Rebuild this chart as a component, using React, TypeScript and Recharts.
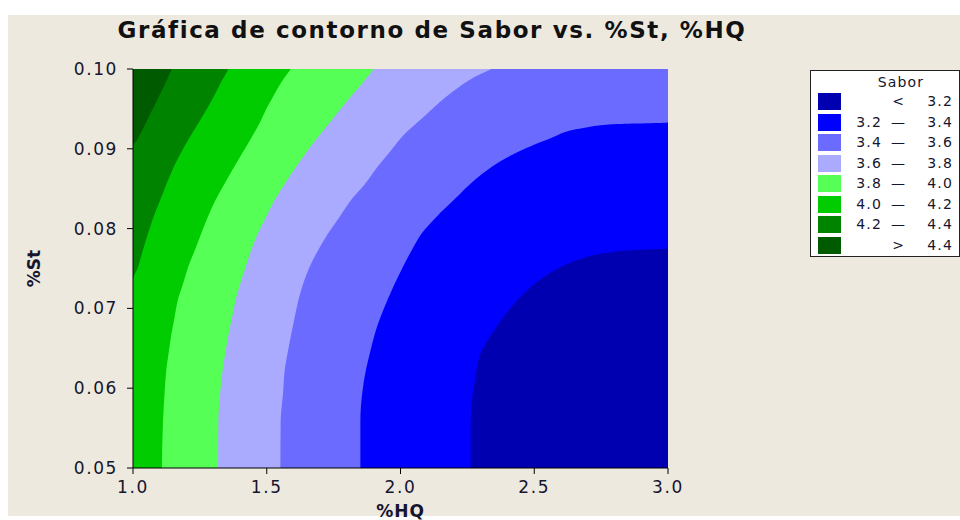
import React from "react";
import { ComposedChart, Area, XAxis, YAxis, Legend } from "recharts";

const hqTicks = [1.0, 1.5, 2.0, 2.5, 3.0];
const stTicks = [0.05, 0.06, 0.07, 0.08, 0.09, 0.1];

// plot frame, filled with the "< 3.2" band
const frameSt = [0.05, 0.1];
const frameHq = [3.0, 3.0];

// contour lines: %HQ where Sabor crosses each level, read along %St
const c32St = [0.05, 0.0552, 0.061, 0.0648, 0.0662, 0.068, 0.07, 0.072, 0.0738, 0.0752, 0.0763, 0.0769, 0.0773, 0.0775, 0.1];
const c32Hq = [2.262, 2.262, 2.278, 2.305, 2.33, 2.365, 2.41, 2.465, 2.53, 2.6, 2.683, 2.76, 2.86, 3.0, 3.0];

const c34St = [0.05, 0.0558, 0.0594, 0.0625, 0.0646, 0.0667, 0.0711, 0.075, 0.0773, 0.0794, 0.0815, 0.0836, 0.0863, 0.0884, 0.0901, 0.0913, 0.0926, 0.0931, 0.0933, 0.1];
const c34Hq = [1.85, 1.85, 1.857, 1.872, 1.887, 1.903, 1.952, 2.006, 2.042, 2.079, 2.135, 2.2, 2.285, 2.372, 2.471, 2.559, 2.683, 2.808, 3.0, 3.0];

const c36St = [0.05, 0.0558, 0.0594, 0.0625, 0.0646, 0.0667, 0.069, 0.0711, 0.0731, 0.0752, 0.0773, 0.0794, 0.0815, 0.0836, 0.0855, 0.088, 0.0896, 0.092, 0.0938, 0.0955, 0.0972, 0.0989, 0.1];
const c36Hq = [1.551, 1.552, 1.561, 1.568, 1.579, 1.591, 1.605, 1.619, 1.636, 1.66, 1.692, 1.729, 1.773, 1.816, 1.865, 1.92, 1.96, 2.02, 2.08, 2.135, 2.197, 2.272, 2.34];

const c38St = [0.05, 0.0558, 0.0594, 0.0625, 0.0646, 0.0667, 0.069, 0.0711, 0.0731, 0.0752, 0.0773, 0.0794, 0.0815, 0.0836, 0.0859, 0.088, 0.0901, 0.0921, 0.0942, 0.0963, 0.098, 0.1];
const c38Hq = [1.318, 1.319, 1.326, 1.336, 1.346, 1.357, 1.371, 1.384, 1.401, 1.421, 1.442, 1.467, 1.498, 1.53, 1.573, 1.615, 1.66, 1.707, 1.757, 1.808, 1.852, 1.9];

const c40St = [0.05, 0.0558, 0.0594, 0.0625, 0.0646, 0.0667, 0.069, 0.0711, 0.0731, 0.0752, 0.0773, 0.0794, 0.0815, 0.0836, 0.0855, 0.0875, 0.0896, 0.0917, 0.0934, 0.0951, 0.0963, 0.098, 0.1];
const c40Hq = [1.108, 1.112, 1.118, 1.125, 1.134, 1.143, 1.156, 1.168, 1.187, 1.206, 1.231, 1.255, 1.28, 1.309, 1.34, 1.374, 1.411, 1.448, 1.476, 1.5, 1.52, 1.548, 1.59];

const c42St = [0.05, 0.0735, 0.0752, 0.0773, 0.0794, 0.0815, 0.0836, 0.0859, 0.088, 0.0901, 0.0921, 0.0942, 0.0963, 0.0984, 0.1];
const c42Hq = [1.0, 1.0, 1.019, 1.037, 1.056, 1.077, 1.102, 1.129, 1.156, 1.189, 1.224, 1.262, 1.298, 1.33, 1.357];

const c44St = [0.05, 0.0905, 0.0907, 0.0921, 0.0942, 0.0963, 0.098, 0.1];
const c44Hq = [1.0, 1.0, 1.006, 1.031, 1.062, 1.093, 1.118, 1.145];

const bandColors = ["#0000B0", "#0000FF", "#6B6BFF", "#AAAAFF", "#55FF55", "#00CC00", "#008400", "#005A00"];
const legendLo = ["", "3.2", "3.4", "3.6", "3.8", "4.0", "4.2", ""];
const legendMid = ["<", "—", "—", "—", "—", "—", "—", ">"];
const legendHi = ["3.2", "3.4", "3.6", "3.8", "4.0", "4.2", "4.4", "4.4"];

const contours = [
  { st: c32St, hq: c32Hq },
  { st: c34St, hq: c34Hq },
  { st: c36St, hq: c36Hq },
  { st: c38St, hq: c38Hq },
  { st: c40St, hq: c40Hq },
  { st: c42St, hq: c42Hq },
  { st: c44St, hq: c44Hq },
];

const rows = (st: number[], hq: number[]) => st.map((s, i) => ({ st: s, hq: hq[i] }));

const INK = "#15152e";
const tickStyle = { fontFamily: "DejaVu Sans", fontSize: 17, fill: INK, letterSpacing: 1.6 };

function SaborLegend() {
  const txt = { position: "absolute" as const, fontSize: 14, color: INK, letterSpacing: 1.2, lineHeight: "17px" };
  return (
    <div style={{ position: "relative", width: 150, height: 187, boxSizing: "border-box", border: "1px solid #222", background: "#fff", fontFamily: "DejaVu Sans" }}>
      <div style={{ ...txt, left: 0, width: 180, top: 3, textAlign: "center" }}>Sabor</div>
      {bandColors.map((c, i) => (
        <React.Fragment key={i}>
          <div style={{ position: "absolute", left: 7, top: 22 + i * 20.5, width: 23, height: 17, background: c }} />
          <div style={{ ...txt, right: 77, top: 22 + i * 20.5, textAlign: "right" }}>{legendLo[i]}</div>
          <div style={{ ...txt, left: 80, width: 14, top: 22 + i * 20.5, textAlign: "center", letterSpacing: 0 }}>{legendMid[i]}</div>
          <div style={{ ...txt, right: 6, top: 22 + i * 20.5, textAlign: "right" }}>{legendHi[i]}</div>
        </React.Fragment>
      ))}
    </div>
  );
}

export default function App() {
  return (
    <div style={{ position: "absolute", left: 0, top: 0, width: 960, height: 520, background: "#fff", overflow: "hidden" }}>
      <div style={{ position: "absolute", left: 8, top: 15, width: 952, height: 501, background: "#EDE9DF" }} />
      <div
        style={{
          position: "absolute",
          left: 0,
          top: 17,
          width: 864,
          textAlign: "center",
          fontFamily: "DejaVu Sans",
          fontWeight: "bold",
          fontSize: 23,
          lineHeight: "26px",
          letterSpacing: 1.6,
          color: "#111",
        }}
      >
        Gráfica de contorno de Sabor vs. %St, %HQ
      </div>
      <div style={{ position: "absolute", left: 0, top: 0 }}>
        <ComposedChart layout="vertical" width={960} height={520} margin={{ top: 69, right: 292, bottom: 0, left: 13 }}>
          <Area data={rows(frameSt, frameHq)} dataKey="hq" type="linear" baseValue="dataMin" stroke="none" fill={bandColors[0]} fillOpacity={1} isAnimationActive={false} />
          {contours.map((c, i) => (
            <Area
              key={i}
              data={rows(c.st, c.hq)}
              dataKey="hq"
              type="monotone"
              baseValue="dataMin"
              stroke="none"
              fill={bandColors[i + 1]}
              fillOpacity={1}
              isAnimationActive={false}
            />
          ))}
          <XAxis
            type="number"
            domain={[1, 3]}
            ticks={hqTicks}
            tickFormatter={(v: number) => v.toFixed(1)}
            height={52}
            tickSize={6}
            tickMargin={7}
            tick={tickStyle}
            axisLine={{ stroke: "#000" }}
            tickLine={{ stroke: "#000" }}
            label={{ value: "%HQ", position: "insideBottom", offset: 3, style: { fontFamily: "DejaVu Sans", fontWeight: "bold", fontSize: 17, fill: INK, letterSpacing: 1 } }}
          />
          <YAxis
            type="number"
            dataKey="st"
            reversed
            domain={[0.05, 0.1]}
            ticks={stTicks}
            tickFormatter={(v: number) => v.toFixed(2)}
            width={120}
            tickSize={6}
            tickMargin={9}
            tick={tickStyle}
            axisLine={{ stroke: "#000" }}
            tickLine={{ stroke: "#000" }}
            label={{ value: "%St", angle: -90, position: "insideLeft", offset: 21, style: { textAnchor: "middle", fontFamily: "DejaVu Sans", fontWeight: "bold", fontSize: 17, fill: INK } }}
          />
          <XAxis xAxisId="top" orientation="top" type="number" domain={[1, 3]} height={0} tick={false} tickLine={false} axisLine={{ stroke: "#000" }} />
          <YAxis yAxisId="right" orientation="right" type="number" reversed domain={[0.05, 0.1]} width={0} tick={false} tickLine={false} axisLine={{ stroke: "#000" }} />
          <Legend layout="vertical" align="center" verticalAlign="middle" wrapperStyle={{ left: 810, top: 70, width: 150, height: 187 }} content={() => <SaborLegend />} />
        </ComposedChart>
      </div>
    </div>
  );
}
